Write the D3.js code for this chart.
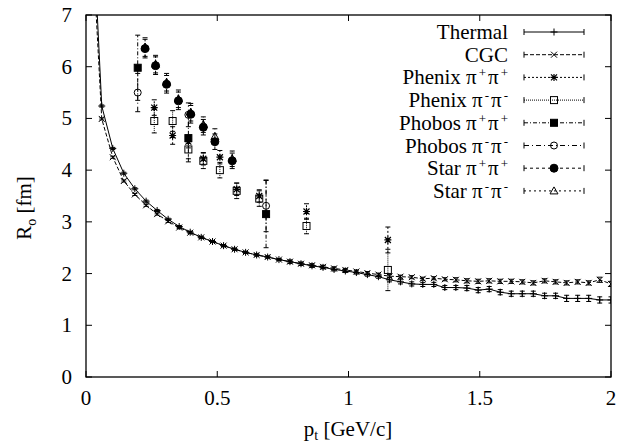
<!DOCTYPE html>
<html>
<head>
<meta charset="utf-8">
<script src="https://cdn.jsdelivr.net/npm/d3@7"></script>
<style>
  body { margin: 0; background: #fff; }
</style>
</head>
<body>
<div id="chart"></div>
<script>
// model curves (first point sits above the frame and gets clipped)
var gridPt = [0.018, 0.060, 0.102, 0.144, 0.186, 0.229, 0.271, 0.313, 0.355, 0.397, 0.439, 0.482,
  0.524, 0.566, 0.608, 0.650, 0.692, 0.735, 0.777, 0.819, 0.861, 0.903, 0.945, 0.988,
  1.030, 1.072, 1.114, 1.156, 1.198, 1.241, 1.283, 1.325, 1.367, 1.409, 1.451, 1.494,
  1.536, 1.578, 1.620, 1.662, 1.704, 1.747, 1.789, 1.831, 1.873, 1.915, 1.957, 2.000];
var thermalR = [9.6, 5.24, 4.42, 3.94, 3.64, 3.40, 3.22, 3.05, 2.91, 2.80, 2.70, 2.62,
  2.54, 2.47, 2.41, 2.36, 2.32, 2.27, 2.23, 2.19, 2.15, 2.12, 2.08, 2.05,
  2.02, 1.98, 1.94, 1.88, 1.84, 1.80, 1.79, 1.79, 1.73, 1.73, 1.72, 1.68,
  1.70, 1.64, 1.61, 1.61, 1.61, 1.57, 1.57, 1.52, 1.52, 1.52, 1.49, 1.49];
var thermalErr = [0, 0.02, 0.02, 0.02, 0.02, 0.02, 0.02, 0.02, 0.02, 0.02, 0.02, 0.02,
  0.02, 0.02, 0.02, 0.02, 0.02, 0.02, 0.03, 0.03, 0.03, 0.03, 0.03, 0.03,
  0.03, 0.03, 0.03, 0.04, 0.04, 0.04, 0.04, 0.04, 0.04, 0.04, 0.05, 0.05,
  0.05, 0.05, 0.05, 0.05, 0.05, 0.05, 0.05, 0.06, 0.06, 0.06, 0.06, 0.06];
var cgcR = [9.0, 4.99, 4.25, 3.79, 3.53, 3.32, 3.15, 3.01, 2.89, 2.79, 2.70, 2.62,
  2.54, 2.47, 2.41, 2.36, 2.32, 2.27, 2.23, 2.19, 2.16, 2.13, 2.10, 2.07,
  2.04, 2.01, 1.98, 1.95, 1.94, 1.93, 1.90, 1.91, 1.89, 1.88, 1.86, 1.85,
  1.86, 1.85, 1.85, 1.84, 1.82, 1.86, 1.84, 1.82, 1.84, 1.82, 1.88, 1.80];
var cgcErr = [0, 0.02, 0.02, 0.02, 0.02, 0.02, 0.02, 0.02, 0.02, 0.02, 0.02, 0.02,
  0.02, 0.02, 0.02, 0.02, 0.02, 0.02, 0.03, 0.03, 0.03, 0.03, 0.03, 0.03,
  0.03, 0.03, 0.03, 0.03, 0.03, 0.03, 0.03, 0.03, 0.03, 0.04, 0.04, 0.04,
  0.04, 0.04, 0.04, 0.04, 0.04, 0.04, 0.04, 0.04, 0.04, 0.04, 0.05, 0.05];

// measurements
var phenixPt = [0.26, 0.33, 0.39, 0.447, 0.51, 0.574, 0.66, 0.84, 1.15];
var phenixPPR = [5.21, 4.67, 4.55, 4.22, 4.25, 3.63, 3.50, 3.20, 2.65];
var phenixPPErr = [0.15, 0.17, 0.12, 0.12, 0.13, 0.12, 0.12, 0.15, 0.25];
var phenixMMR = [4.95, 4.95, 4.40, 4.18, 4.00, 3.60, 3.45, 2.92, 2.07];
var phenixMMErr = [0.23, 0.2, 0.18, 0.15, 0.15, 0.15, 0.15, 0.15, 0.4];

var phobosPt = [0.197, 0.39, 0.686];
var phobosPPR = [5.98, 4.62, 3.15];
var phobosPPErr = [0.63, 0.46, 0.65];
var phobosMMR = [5.50, 5.07, 3.31];
var phobosMMErr = [0.37, 0.23, 0.5];

var starPt = [0.225, 0.265, 0.307, 0.352, 0.399, 0.447, 0.491, 0.557];
var starPPR = [6.35, 6.02, 5.66, 5.34, 5.08, 4.83, 4.55, 4.18];
var starPPErr = [0.18, 0.17, 0.17, 0.17, 0.17, 0.15, 0.15, 0.15];
var starMMR = [6.38, 6.05, 5.70, 5.38, 5.12, 4.88, 4.65, 4.22];
var starMMErr = [0.18, 0.17, 0.17, 0.17, 0.17, 0.15, 0.15, 0.15];

var xTicks = [0, 0.5, 1, 1.5, 2];
var yTicks = [0, 1, 2, 3, 4, 5, 6, 7];

(function (){
	var W = 631, H = 445;
	var left = 86, right = 611, top = 15, bottom = 377;
	var font = "'Liberation Serif', 'Times New Roman', Times, 'DejaVu Serif', serif";

	var x = d3.scaleLinear().domain([0, 2]).range([left, right]);
	var y = d3.scaleLinear().domain([0, 7]).range([bottom, top]);

	var svg = d3.select("#chart").append("svg")
		.attr("width", W).attr("height", H)
		.attr("font-family", font)
		.style("font-family", font);

	svg.append("defs").append("clipPath").attr("id", "clip")
		.append("rect").attr("x", left).attr("y", top)
		.attr("width", right - left).attr("height", bottom - top);

	function zip(px, r, e){
		return px.map(function(p, i){ return {x: p, r: r[i], e: e[i]}; });
	}

	var series = [
		{name: "Thermal", dash: null, sym: "plus", line: true, data: zip(gridPt, thermalR, thermalErr)},
		{name: "CGC", dash: "4,2", sym: "cross", line: true, data: zip(gridPt, cgcR, cgcErr)},
		{name: "Phenix", sup: ["+", "+"], dash: "2,2", sym: "star", data: zip(phenixPt, phenixPPR, phenixPPErr)},
		{name: "Phenix", sup: ["-", "-"], dash: "1,1", sym: "box", data: zip(phenixPt, phenixMMR, phenixMMErr)},
		{name: "Phobos", sup: ["+", "+"], dash: "4,2,1,2", sym: "boxf", data: zip(phobosPt, phobosPPR, phobosPPErr)},
		{name: "Phobos", sup: ["-", "-"], dash: "5,3,1,3", sym: "circ", data: zip(phobosPt, phobosMMR, phobosMMErr)},
		{name: "Star", sup: ["+", "+"], dash: "3,3", sym: "circf", data: zip(starPt, starPPR, starPPErr)},
		{name: "Star", sup: ["-", "-"], dash: "2,3", sym: "tri", data: zip(starPt, starMMR, starMMErr)}
	];

	function drawMarker(g, sym, cx, cy){
		var s = 3.5;
		if(sym === "plus"){
			g.append("path").attr("d", "M"+(cx-s)+","+cy+"H"+(cx+s)+"M"+cx+","+(cy-s)+"V"+(cy+s))
				.attr("stroke", "#000").attr("stroke-width", 1).attr("fill", "none");
		} else if(sym === "cross"){
			g.append("path").attr("d", "M"+(cx-3)+","+(cy-3)+"L"+(cx+3)+","+(cy+3)+"M"+(cx-3)+","+(cy+3)+"L"+(cx+3)+","+(cy-3))
				.attr("stroke", "#000").attr("stroke-width", 1).attr("fill", "none");
		} else if(sym === "star"){
			g.append("path").attr("d", "M"+(cx-s)+","+cy+"H"+(cx+s)+"M"+cx+","+(cy-s)+"V"+(cy+s)+
				"M"+(cx-3)+","+(cy-3)+"L"+(cx+3)+","+(cy+3)+"M"+(cx-3)+","+(cy+3)+"L"+(cx+3)+","+(cy-3))
				.attr("stroke", "#000").attr("stroke-width", 1.2).attr("fill", "none");
		} else if(sym === "box" || sym === "boxf"){
			g.append("rect").attr("x", cx-3.5).attr("y", cy-3.5).attr("width", 7).attr("height", 7)
				.attr("stroke", "#000").attr("stroke-width", 1)
				.attr("fill", sym === "boxf" ? "#000" : "none");
		} else if(sym === "circ" || sym === "circf"){
			g.append("circle").attr("cx", cx).attr("cy", cy).attr("r", sym === "circf" ? 4 : 3.5)
				.attr("stroke", "#000").attr("stroke-width", 1)
				.attr("fill", sym === "circf" ? "#000" : "none");
		} else if(sym === "tri"){
			g.append("path").attr("d", "M"+cx+","+(cy-4)+"L"+(cx+4)+","+(cy+3)+"L"+(cx-4)+","+(cy+3)+"Z")
				.attr("stroke", "#000").attr("stroke-width", 1).attr("fill", "none");
		}
	}

	var plot = svg.append("g").attr("clip-path", "url(#clip)");

	series.forEach(function(s){
		var g = plot.append("g");
		if(s.line){
			g.append("path").datum(s.data)
				.attr("d", d3.line().x(function(d){ return x(d.x); }).y(function(d){ return y(d.r); }))
				.attr("fill", "none").attr("stroke", "#000").attr("stroke-width", 1)
				.attr("stroke-dasharray", s.dash);
		}
		s.data.forEach(function(d){
			var cx = x(d.x), y0 = y(d.r - d.e), y1 = y(d.r + d.e);
			if(d.e > 0){
				g.append("line").attr("x1", cx).attr("x2", cx).attr("y1", y0).attr("y2", y1)
					.attr("stroke", "#000").attr("stroke-width", 1).attr("stroke-dasharray", s.dash);
				g.append("path").attr("d", "M"+(cx-2.5)+","+y0+"H"+(cx+2.5)+"M"+(cx-2.5)+","+y1+"H"+(cx+2.5))
					.attr("stroke", "#000").attr("stroke-width", 1);
			}
			drawMarker(g, s.sym, cx, y(d.r));
		});
	});

	// frame and ticks (mirrored, inward)
	var axes = svg.append("g");
	axes.append("rect").attr("x", left).attr("y", top).attr("width", right - left).attr("height", bottom - top)
		.attr("fill", "none").attr("stroke", "#000").attr("stroke-width", 1.3);

	xTicks.forEach(function(t){
		axes.append("line").attr("x1", x(t)).attr("x2", x(t)).attr("y1", bottom).attr("y2", bottom - 6)
			.attr("stroke", "#000");
		axes.append("line").attr("x1", x(t)).attr("x2", x(t)).attr("y1", top).attr("y2", top + 6)
			.attr("stroke", "#000");
		axes.append("text").attr("x", x(t)).attr("y", bottom + 28)
			.attr("text-anchor", "middle").style("font-size", "21px").text(t);
	});
	yTicks.forEach(function(t){
		axes.append("line").attr("x1", left).attr("x2", left + 6).attr("y1", y(t)).attr("y2", y(t))
			.attr("stroke", "#000");
		axes.append("line").attr("x1", right).attr("x2", right - 6).attr("y1", y(t)).attr("y2", y(t))
			.attr("stroke", "#000");
		axes.append("text").attr("x", left - 14).attr("y", y(t) + 7)
			.attr("text-anchor", "end").style("font-size", "21px").text(t);
	});

	// axis titles
	var xt = svg.append("text").attr("x", 348).attr("y", 436).attr("text-anchor", "middle").style("font-size", "21px");
	xt.append("tspan").text("p");
	xt.append("tspan").attr("dy", 4).style("font-size", "14px").text("t");
	xt.append("tspan").attr("dy", -4).text(" [GeV/c]");

	var yt = svg.append("text").attr("transform", "translate(31,208) rotate(-90)")
		.attr("text-anchor", "middle").style("font-size", "21px");
	yt.append("tspan").text("R");
	yt.append("tspan").attr("dy", 5).style("font-size", "14px").text("o");
	yt.append("tspan").attr("dy", -5).text(" [fm]");

	// key
	var key = svg.append("g");
	series.forEach(function(s, i){
		var ky = 32 + i * 22.7;
		var t = key.append("text").attr("x", 508).attr("y", ky + 7)
			.attr("text-anchor", "end").style("font-size", "21px");
		if(s.sup){
			t.append("tspan").text(s.name + " π");
			t.append("tspan").attr("dx", 2).attr("dy", -7).style("font-size", "13px").text(s.sup[0]);
			t.append("tspan").attr("dx", 2).attr("dy", 7).text("π");
			t.append("tspan").attr("dx", 2).attr("dy", -7).style("font-size", "13px").text(s.sup[1]);
		} else {
			t.text(s.name);
		}
		key.append("line").attr("x1", 524).attr("x2", 584).attr("y1", ky).attr("y2", ky)
			.attr("stroke", "#000").attr("stroke-width", 1).attr("stroke-dasharray", s.dash);
		key.append("path").attr("d", "M524,"+(ky-3)+"V"+(ky+3)+"M584,"+(ky-3)+"V"+(ky+3))
			.attr("stroke", "#000").attr("stroke-width", 1);
		drawMarker(key, s.sym, 554, ky);
	});
})();
</script>
</body>
</html>
